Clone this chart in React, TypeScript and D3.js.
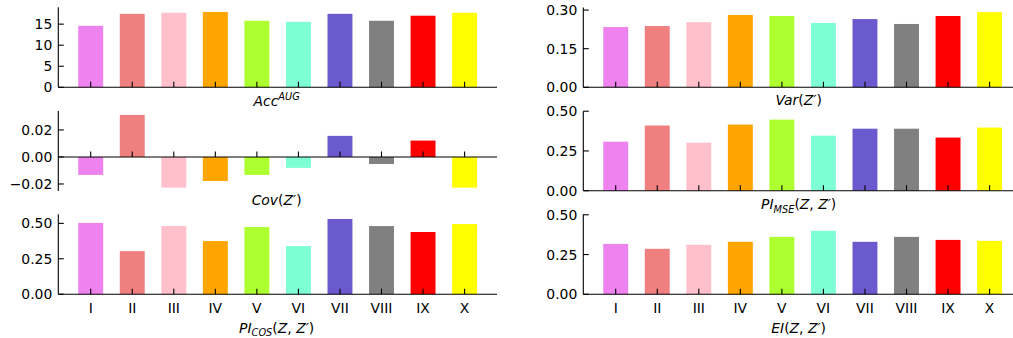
import * as d3 from 'd3';

// bar categories and their colours
const categories = ['I', 'II', 'III', 'IV', 'V', 'VI', 'VII', 'VIII', 'IX', 'X'];
const colors = ['#ee82ee', '#f08080', '#ffc0cb', '#ffa500', '#adff2f', '#7fffd4', '#6a5acd', '#808080', '#ff0000', '#ffff00'];

// series values
const accAug = [14.6, 17.45, 17.7, 17.9, 15.8, 15.55, 17.45, 15.8, 17.0, 17.7];
const cov = [-0.0133, 0.0311, -0.0227, -0.0178, -0.0133, -0.0081, 0.0156, -0.0052, 0.0121, -0.0227];
const piCos = [0.503, 0.304, 0.481, 0.375, 0.474, 0.34, 0.531, 0.481, 0.439, 0.495];
const variance = [0.234, 0.238, 0.253, 0.281, 0.277, 0.25, 0.265, 0.246, 0.277, 0.292];
const piMse = [0.308, 0.41, 0.302, 0.416, 0.447, 0.346, 0.39, 0.39, 0.334, 0.397];
const ei = [0.317, 0.286, 0.311, 0.33, 0.361, 0.399, 0.33, 0.361, 0.342, 0.336];

// y tick values
const accTicks = [0, 5, 10, 15];
const covTicks = [-0.02, 0, 0.02];
const halfTicks = [0, 0.25, 0.5];
const varTicks = [0, 0.15, 0.3];

type Part = [string, 'i' | 'r' | 'sub' | 'sup'];

const FONT = 'DejaVu Sans, sans-serif';
const FS = 13.9;
const SMALL = 9.8;

const cols = [
  { x0: 58.3, x1: 497 },
  { x0: 583.3, x1: 1022 },
];

const panels = [
  { values: accAug, ticks: accTicks, domain: [0, 19.0], col: 0, top: 7.3, bottom: 87.3, fmt: d3.format('d'), labelY: 105.8, showX: false,
    label: [['Acc', 'i'], ['AUG', 'sup']] as Part[] },
  { values: cov, ticks: covTicks, domain: [-0.0252, 0.034], col: 0, top: 111, bottom: 191, fmt: d3.format('.2f'), labelY: 204.5, showX: false,
    label: [['Cov', 'i'], ['(', 'r'], ['Z′', 'i'], [')', 'r']] as Part[] },
  { values: piCos, ticks: halfTicks, domain: [0, 0.564], col: 0, top: 214.3, bottom: 294.2, fmt: d3.format('.2f'), labelY: 332.5, showX: true,
    label: [['PI', 'i'], ['COS', 'sub'], ['(', 'r'], ['Z', 'i'], [', ', 'r'], ['Z′', 'i'], [')', 'r']] as Part[] },
  { values: variance, ticks: varTicks, domain: [0, 0.31], col: 1, top: 7.5, bottom: 87.3, fmt: d3.format('.2f'), labelY: 105.2, showX: false,
    label: [['Var', 'i'], ['(', 'r'], ['Z′', 'i'], [')', 'r']] as Part[] },
  { values: piMse, ticks: halfTicks, domain: [0, 0.5], col: 1, top: 111.2, bottom: 190.7, fmt: d3.format('.2f'), labelY: 209.3, showX: false,
    label: [['PI', 'i'], ['MSE', 'sub'], ['(', 'r'], ['Z', 'i'], [', ', 'r'], ['Z′', 'i'], [')', 'r']] as Part[] },
  { values: ei, ticks: halfTicks, domain: [0, 0.503], col: 1, top: 214.3, bottom: 294.3, fmt: d3.format('.2f'), labelY: 332.8, showX: true,
    label: [['EI', 'i'], ['(', 'r'], ['Z', 'i'], [', ', 'r'], ['Z′', 'i'], [')', 'r']] as Part[] },
];

function MathLabel({ x, y, parts }: { x: number; y: number; parts: Part[] }) {
  let shift = 0;
  return (
    <text x={x} y={y} textAnchor="middle" fontFamily={FONT} fontSize={FS} fill="#000">
      {parts.map(([t, kind], i) => {
        const target = kind === 'sub' ? 3.5 : kind === 'sup' ? -6 : 0;
        const dy = target - shift;
        shift = target;
        return (
          <tspan key={i} dy={dy} fontStyle={kind === 'r' ? 'normal' : 'italic'}
            fontSize={kind === 'sub' || kind === 'sup' ? SMALL : FS}>
            {t}
          </tspan>
        );
      })}
    </text>
  );
}

function Panel({ p }: { p: (typeof panels)[number] }) {
  const c = cols[p.col];
  const x = d3.scaleLinear().domain([-0.78, categories.length - 1 + 0.78]).range([c.x0, c.x1]);
  const y = d3.scaleLinear().domain(p.domain).range([p.bottom, p.top]);
  const bw = x(0.3) - x(-0.3);
  const y0 = y(0);
  const tickLen = 5.5;
  return (
    <g>
      {p.values.map((v, i) => (
        <rect key={i} x={x(i) - bw / 2} y={Math.min(y(v), y0)} width={bw}
          height={Math.abs(y(v) - y0)} fill={colors[i]} />
      ))}
      {/* x ticks, pointing inward */}
      {categories.map((cat, i) => (
        <g key={cat}>
          <line x1={x(i)} x2={x(i)} y1={y0} y2={y0 - tickLen} stroke="#000" strokeWidth={1.1} />
          {p.showX && (
            <text x={x(i)} y={y0 + 19} textAnchor="middle" fontFamily={FONT} fontSize={FS} fill="#000">{cat}</text>
          )}
        </g>
      ))}
      {/* y ticks */}
      {p.ticks.map((t) => (
        <g key={t}>
          <line x1={c.x0} x2={c.x0 + tickLen} y1={y(t)} y2={y(t)} stroke="#000" strokeWidth={1.1} />
          <text x={c.x0 - 6} y={y(t)} dy="0.36em" textAnchor="end" fontFamily={FONT} fontSize={FS} fill="#000">
            {p.fmt(t)}
          </text>
        </g>
      ))}
      <line x1={c.x0} x2={c.x0} y1={p.top} y2={p.bottom} stroke="#000" strokeWidth={1.1} />
      <line x1={c.x0} x2={c.x1} y1={y0} y2={y0} stroke="#000" strokeWidth={1.1} />
      <MathLabel x={(c.x0 + c.x1) / 2 - (p.col === 1 ? 4 : 1)} y={p.labelY} parts={p.label} />
    </g>
  );
}

export default function App() {
  return (
    <svg width={1013} height={338} style={{ position: 'absolute', left: 0, top: 0, background: '#fff' }}>
      <rect width={1013} height={338} fill="#fff" />
      {panels.map((p, i) => <Panel key={i} p={p} />)}
    </svg>
  );
}
